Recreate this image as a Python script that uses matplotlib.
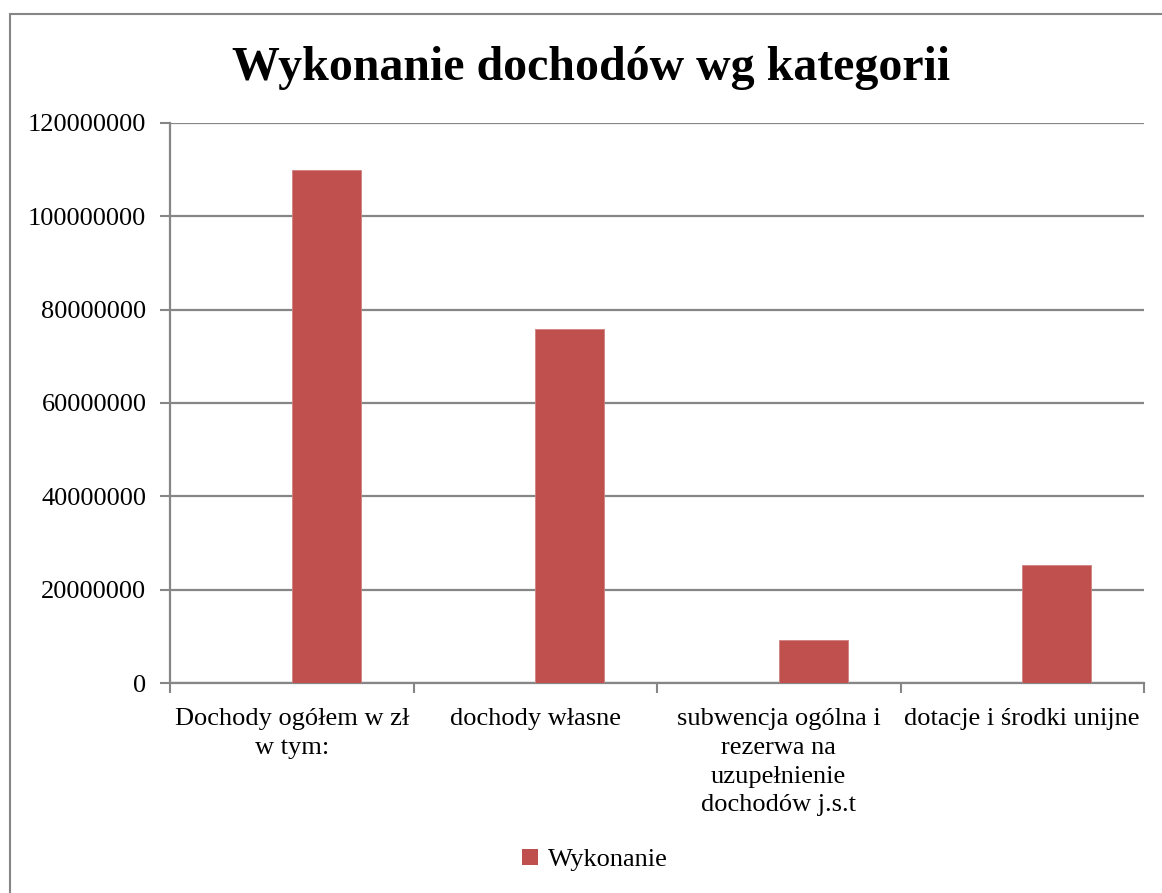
import matplotlib
matplotlib.use("Agg")
import matplotlib.pyplot as plt
from matplotlib.patches import Rectangle, Patch
import numpy as np

categories = ["Dochody ogółem w zł\nw tym:", "dochody własne",
              "subwencja ogólna i\nrezerwa na\nuzupełnienie\ndochodów j.s.t",
              "dotacje i środki unijne"]
values = [109900000, 75900000, 9200000, 25350000]
series_name = "Wykonanie"
yticks = [0, 20000000, 40000000, 60000000, 80000000, 100000000, 120000000]

plt.rcParams['font.family'] = ['Liberation Serif', 'DejaVu Serif']

W, H = 1162, 893
fig = plt.figure(figsize=(W / 100, H / 100), dpi=100)
fig.patch.set_facecolor("white")

# outer chart border
fig.patches.append(Rectangle((10 / W, -0.01), 1.02, 1 - 14 / H + 0.01,
                             transform=fig.transFigure, fill=False,
                             edgecolor="#868686", linewidth=1.5))

left, right, top, bottom = 170, 1144, 123, 683
ax = fig.add_axes([left / W, 1 - bottom / H, (right - left) / W, (bottom - top) / H])

x = np.arange(len(categories))
bw = 0.283
ax.bar(x, values, width=bw, align="edge", color="#C0504D", zorder=3,
       edgecolor="#D08080", linewidth=0.6)

ax.set_xlim(-0.5, len(categories) - 0.5)
ax.set_ylim(0, 120000000)
ax.set_yticks(yticks)
ax.set_yticklabels([str(v) for v in yticks], fontsize=19)
ax.yaxis.grid(True, color="#868686", linewidth=1.6, zorder=0)
ax.set_axisbelow(True)

ax.set_xticks(np.arange(-0.5, len(categories) + 0.5, 1.0))
ax.set_xticklabels([])
ax.set_xticks(x, minor=True)
ax.set_xticklabels(categories, minor=True, fontsize=19, linespacing=1.4)
ax.tick_params(axis="x", which="minor", length=0, pad=18)
ax.tick_params(axis="x", which="major", length=7, width=1.5, color="#868686", direction="out")
ax.tick_params(axis="y", length=7, width=1.5, color="#868686", direction="out", pad=10)

for s in ["top", "right"]:
    ax.spines[s].set_visible(False)
for s in ["left", "bottom"]:
    ax.spines[s].set_color("#868686")
    ax.spines[s].set_linewidth(1.6)

fig.text(591 / W, 1 - 68 / H, "Wykonanie dochodów wg kategorii", ha="center", va="center",
         fontsize=34.5, fontweight="bold")

fig.legend(handles=[Patch(facecolor="#C0504D", label=series_name)], loc="center",
           bbox_to_anchor=(595 / W, 1 - 860 / H), frameon=False, fontsize=19,
           handlelength=0.6, handleheight=0.6, handletextpad=0.4)

fig.savefig("out.png", dpi=100, facecolor="white")
